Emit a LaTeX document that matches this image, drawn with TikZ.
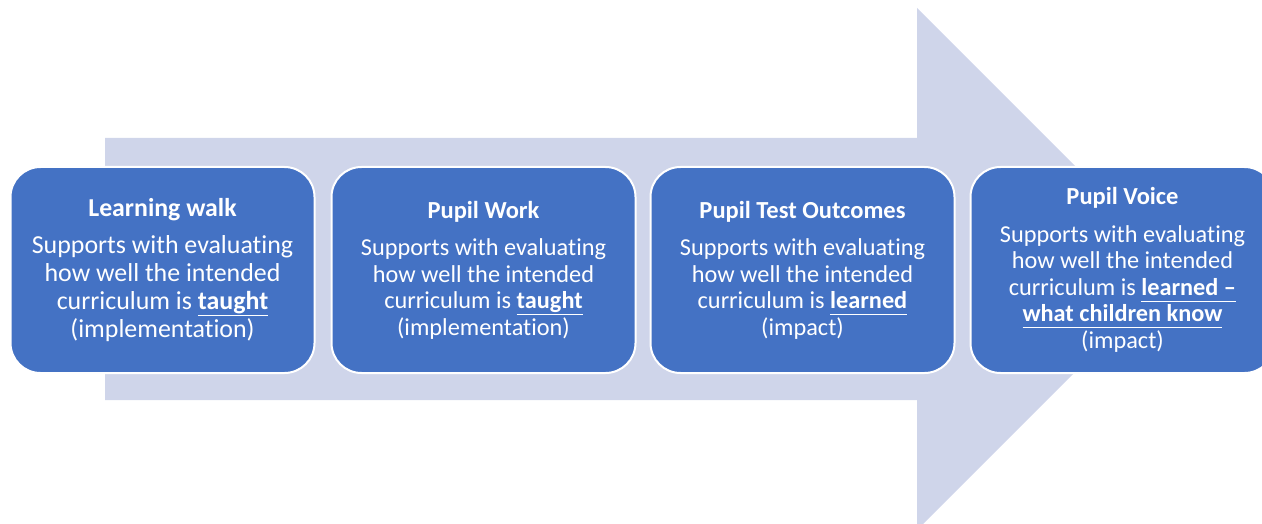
\documentclass[tikz,border=0pt]{standalone}
\usepackage{fontspec}
\setmainfont{Carlito}[Ligatures=NoCommon]
\definecolor{arrowc}{HTML}{CFD5EA}
\definecolor{boxc}{HTML}{4472C4}
\newcommand{\ulw}[1]{\underline{\textbf{#1}\vphantom{g}}}
\newcommand{\ttl}[1]{{\fontsize{24.5}{22}\selectfont\bfseries #1}}
\newcommand{\ttlbig}[1]{{\fontsize{25.8}{22}\selectfont\bfseries #1}}
\begin{document}
\begin{tikzpicture}[x=1pt,y=-1pt,
  box/.style={draw=white, line width=2pt, fill=boxc, rounded corners=30pt,
    minimum width=304pt, minimum height=206pt, text=white, align=center,
    inner sep=0pt, font=\fontsize{24.3}{26.5}\selectfont},
  bigbox/.style={box, font=\fontsize{25.9}{28}\selectfont}]
\useasboundingbox (0,0) rectangle (1262,524);
\clip (0,0) rectangle (1262,524);
\fill[arrowc] (105,138) -- (917,138) -- (917,8) -- (1178,269) -- (917,530)
  -- (917,400) -- (105,400) -- cycle;
\node[bigbox] (b1) at (162.5,270) {\ttlbig{Learning walk}\\[9pt]
  Supports with evaluating\\ how well the intended\\ curriculum is \ulw{taught}\\ (implementation)};
\node[box] (b2) at (483.5,270) {\ttl{Pupil Work}\\[11pt]
  Supports with evaluating\\ how well the intended\\ curriculum is \ulw{taught}\\ (implementation)};
\node[box] (b3) at (802.5,270) {\ttl{Pupil Test Outcomes}\\[11pt]
  Supports with evaluating\\ how well the intended\\ curriculum is \ulw{learned}\\ (impact)};
\node[box] (b4) at (1122.5,270) {\ttl{Pupil Voice}\\[11pt]
  Supports with evaluating\\ how well the intended\\ curriculum is \ulw{learned –}\\ \ulw{what children know}\\ (impact)};
\end{tikzpicture}
\end{document}
